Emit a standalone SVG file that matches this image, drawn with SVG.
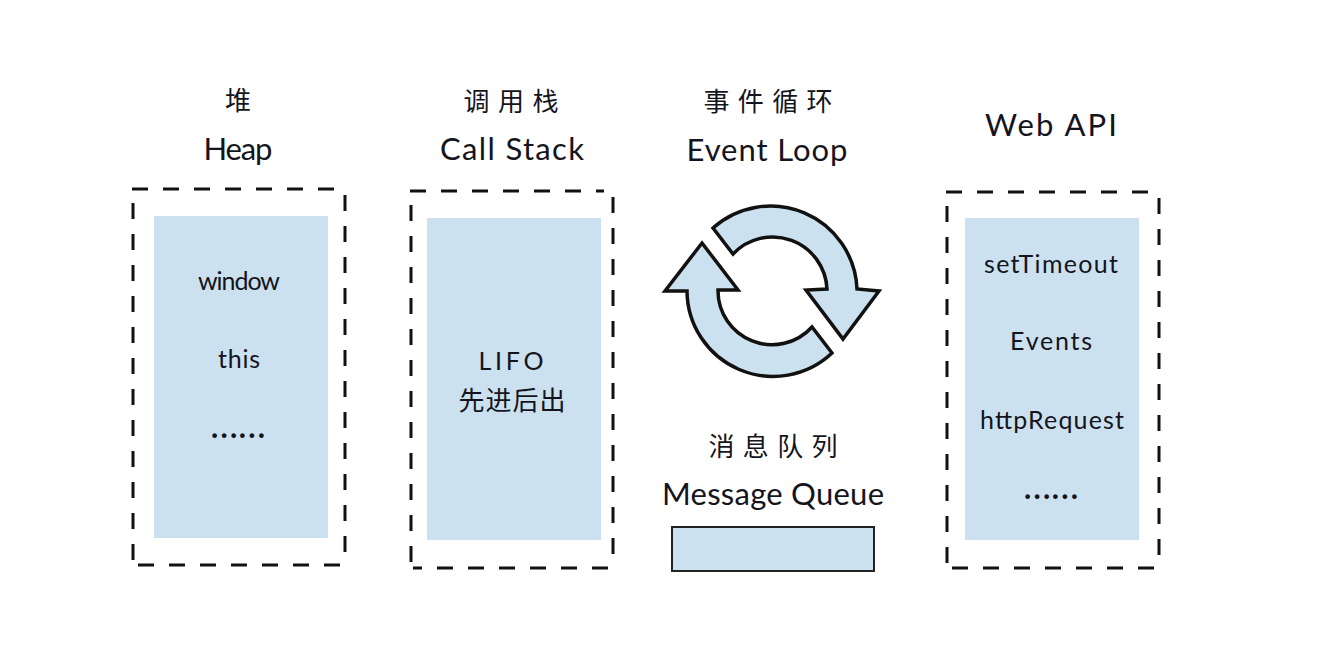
<svg xmlns="http://www.w3.org/2000/svg" width="1320" height="660" viewBox="0 0 1320 660">
<style>
text{font-family:"Lato","Noto Sans CJK SC",sans-serif;fill:#14141c;text-anchor:middle;font-weight:400}
.t{font-size:31px}
.c{font-size:26px;font-family:"Noto Sans CJK SC",sans-serif;font-weight:400}
.b{font-size:25px}
.d{font-size:37px}
.dash{fill:none;stroke:#111;stroke-width:3;stroke-dasharray:16 15}
.fill{fill:#cce1f0}
.line{fill:#cce1f0;stroke:#111;stroke-width:3.5;stroke-linejoin:miter}
</style>
<rect width="1320" height="660" fill="#fff"/>
<g id="heap">
<text class="c" x="238" y="110" textLength="28">堆</text>
<text class="t" x="238" y="160" textLength="69">Heap</text>
<path class="dash" d="M132 189H336M345 195V562M340 565H135M133 560V197"/>
<rect class="fill" x="154" y="216" width="174" height="322"/>
<text class="b" x="239" y="290" textLength="82">window</text>
<text class="b" x="239" y="368" textLength="42">this</text>
<text class="d" x="238" y="438">……</text>
</g>
<g id="call-stack">
<text class="c" x="511" y="111" textLength="95">调用栈</text>
<text class="t" x="512" y="160" textLength="144">Call Stack</text>
<path class="dash" d="M410 191H604M613 197V564M608 568H413M411 562V199"/>
<rect class="fill" x="427" y="218" width="174" height="322"/>
<text class="b" x="511" y="370" textLength="65">LIFO</text>
<text class="c" x="512" y="410" textLength="107">先进后出</text>
</g>
<g id="event-loop">
<text class="c" x="768" y="111" textLength="129">事件循环</text>
<text class="t" x="767" y="161" textLength="161">Event Loop</text>
<path class="line" d="M713 228A86.5 86.5 0 0 1 857 289L879 291L843 339L806 290L827 289A54.5 54.5 0 0 0 733 254Z"/>
<path class="line" d="M702 243L738 290L718 290A54 54 0 0 0 812 327L832 353A86 86 0 0 1 687 291L665 291Z"/>
</g>
<g id="message-queue">
<text class="c" x="773" y="456" textLength="129">消息队列</text>
<text class="t" x="773" y="505" textLength="222">Message Queue</text>
<rect x="672" y="527" width="202" height="44" fill="#cce1f0" stroke="#222" stroke-width="2"/>
</g>
<g id="web-api">
<text class="t" x="1051" y="136" textLength="132">Web API</text>
<path class="dash" d="M946 192H1150M1159 198V565M1154 568H949M947 563V200"/>
<rect class="fill" x="965" y="218" width="174" height="322"/>
<text class="b" x="1051" y="273" textLength="134">setTimeout</text>
<text class="b" x="1051" y="350" textLength="82">Events</text>
<text class="b" x="1052" y="429" textLength="144">httpRequest</text>
<text class="d" x="1051" y="499">……</text>
</g>
<g id="connectors"></g>
</svg>
